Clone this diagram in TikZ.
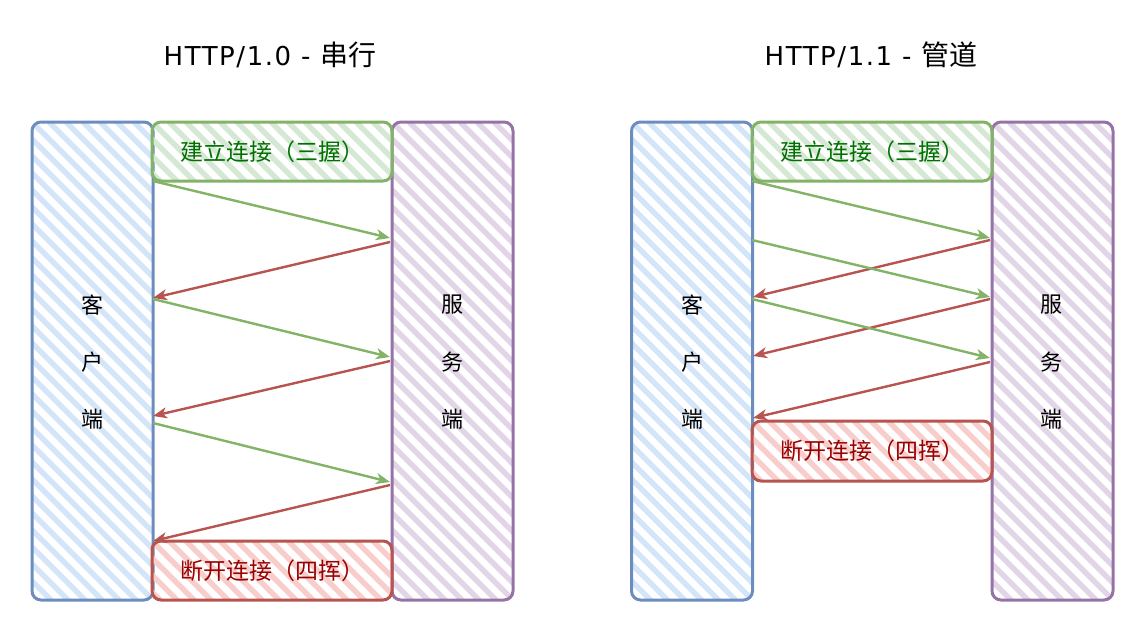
\documentclass[tikz,border=0pt]{standalone}
\usepackage{fontspec}
\setmainfont{Noto Sans CJK SC}
\newfontfamily\tlat[LetterSpace=6]{DejaVu Sans}
\usetikzlibrary{calc,arrows.meta}
\definecolor{bS}{HTML}{6C8EBF}\definecolor{bF}{HTML}{D4E4F9}
\definecolor{pS}{HTML}{9673A6}\definecolor{pF}{HTML}{E1D5E7}
\definecolor{gS}{HTML}{82B366}\definecolor{gF}{HTML}{D5E8D4}
\definecolor{rS}{HTML}{B85450}\definecolor{rF}{HTML}{F8CECC}
\definecolor{gT}{HTML}{007000}\definecolor{rT}{HTML}{990000}
\begin{document}
\begin{tikzpicture}[x=1pt,y=-1pt,
  hatch/.style={path picture={\foreach \k in {-32,...,16}{\draw[line width=5.5pt,#1] ($(path picture bounding box.north west)+(\k*17pt,0pt)$) -- ++(600pt,-600pt);}}},
  sbox/.style={draw=#1S,line width=3pt,rounded corners=9pt,hatch=#1F,inner sep=0pt},
  side/.style={sbox=#1,minimum width=121pt,minimum height=478pt},
  band/.style={sbox=#1,minimum width=240pt,minimum height=59pt,font=\fontsize{23}{26}\selectfont},
  lab/.style={font=\fontsize{22}{26}\selectfont},
  ttl/.style={font=\fontsize{28}{32}\selectfont},
  ga/.style={draw=gS,line width=2.4pt,-{Stealth[length=14pt,width=11pt,inset=4pt]}},
  ra/.style={draw=rS,line width=2.4pt,-{Stealth[length=14pt,width=11pt,inset=4pt]}}]
\useasboundingbox (0,0) rectangle (1143,633);
% titles
\node[ttl] (t1) at (270,55) {{\tlat\fontsize{26}{30}\selectfont HTTP/1.0 - }串行};
\node[ttl] (t2) at (871,55) {{\tlat\fontsize{26}{30}\selectfont HTTP/1.1 - }管道};
% left diagram
\node[side=b] (c1) at (92.5,361) {};
\node[side=p] (s1) at (452.5,361) {};
\node[band=g,text=gT] (g1) at (272,151.5) {建立连接（三握）};
\node[band=r,text=rT] (r1) at (272,570.5) {断开连接（四挥）};
\node[lab] (c1a) at (92,305) {客};
\node[lab] (c1b) at (92,362) {户};
\node[lab] (c1c) at (92,419) {端};
\node[lab] (s1a) at (452,305) {服};
\node[lab] (s1b) at (452,362) {务};
\node[lab] (s1c) at (452,419) {端};
% right diagram
\node[side=b] (c2) at (692,361) {};
\node[side=p] (s2) at (1052.5,361) {};
\node[band=g,text=gT] (g2) at (872,151.5) {建立连接（三握）};
\node[band=r,text=rT,minimum height=60pt] (r2) at (872,451) {断开连接（四挥）};
\node[lab] (c2a) at (692,305) {客};
\node[lab] (c2b) at (692,362) {户};
\node[lab] (c2c) at (692,419) {端};
\node[lab] (s2a) at (1051,305) {服};
\node[lab] (s2b) at (1051,362) {务};
\node[lab] (s2c) at (1051,419) {端};
% left arrow endpoints
\coordinate (L1) at (153,181); \coordinate (L2) at (390,238);
\coordinate (L3) at (390,242); \coordinate (L4) at (153,298);
\coordinate (L5) at (153,299); \coordinate (L6) at (390,357);
\coordinate (L7) at (390,361); \coordinate (L8) at (153,416);
\coordinate (L9) at (153,423); \coordinate (L10) at (390,482);
\coordinate (L11) at (390,485); \coordinate (L12) at (153,541);
\draw[ga] (L1) -- (L2);
\draw[ra] (L3) -- (L4);
\draw[ga] (L5) -- (L6);
\draw[ra] (L7) -- (L8);
\draw[ga] (L9) -- (L10);
\draw[ra] (L11) -- (L12);
% right arrow endpoints
\coordinate (R1) at (752,181); \coordinate (R2) at (990,238);
\coordinate (R3) at (990,240); \coordinate (R4) at (753,297);
\coordinate (R5) at (752,240); \coordinate (R6) at (990,297);
\coordinate (R7) at (990,299); \coordinate (R8) at (753,356);
\coordinate (R9) at (752,299); \coordinate (R10) at (990,358);
\coordinate (R11) at (990,362); \coordinate (R12) at (753,418);
\draw[ga] (R1) -- (R2);
\draw[ra] (R3) -- (R4);
\draw[ga] (R5) -- (R6);
\draw[ra] (R7) -- (R8);
\draw[ga] (R9) -- (R10);
\draw[ra] (R11) -- (R12);
\end{tikzpicture}
\end{document}
